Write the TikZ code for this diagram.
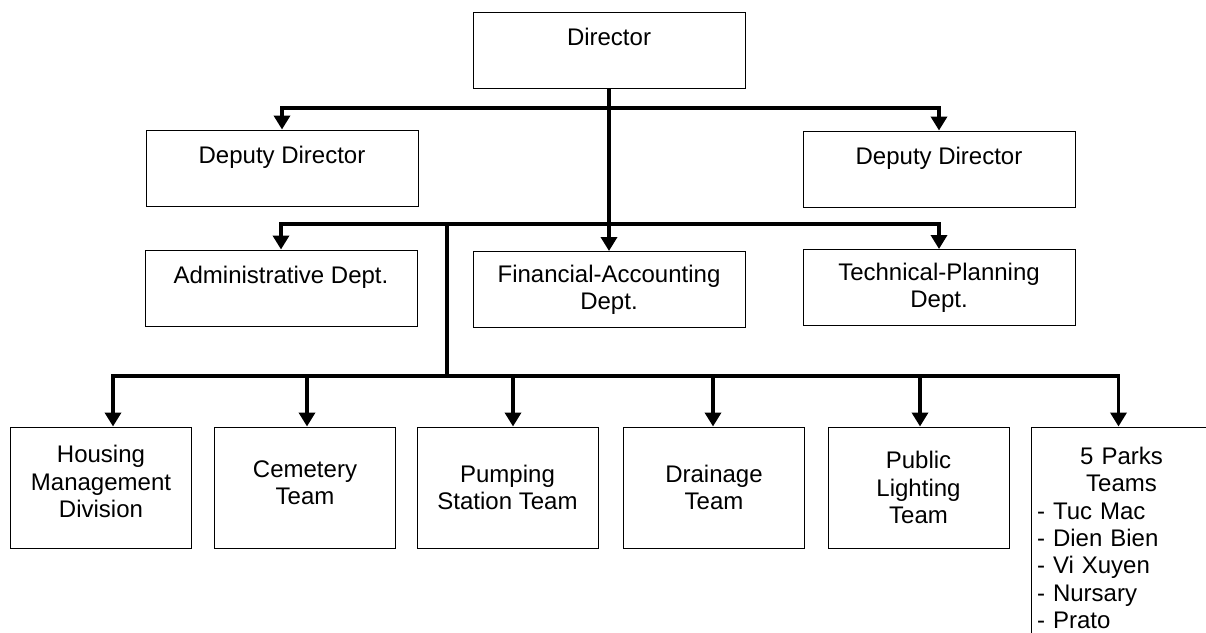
\documentclass[tikz,border=0pt]{standalone}
\usepackage{fontspec}
\setmainfont{Liberation Sans}
\usetikzlibrary{arrows.meta}

\begin{document}
\begin{tikzpicture}[
  x=1pt, y=-1pt,
  font=\fontsize{24}{27.3}\selectfont,
  box/.style={draw=black, line width=1pt, inner sep=0pt, align=center},
  office/.style={box, minimum width=272pt, minimum height=76pt},
  unit/.style={box, minimum width=181pt, minimum height=121pt},
  bus/.style={line width=3.8pt},
  arr/.style={bus, -{Triangle[length=14pt, width=16pt]}}
]
  \useasboundingbox (0,0) rectangle (1206,632);
  \clip (0,0) rectangle (1206,632);

  % management
  \node[office] (dir) at (609,50)    {Director\\\mbox{}};
  \node[office] (ddl) at (282,168)   {Deputy Director\\\mbox{}};
  \node[office] (ddr) at (939,169)   {Deputy Director\\\mbox{}};

  % departments
  \node[office] (adm) at (281,288)   {Administrative Dept.\\\mbox{}};
  \node[office] (fin) at (609,289.5) {Financial-Accounting\\Dept.};
  \node[office] (tec) at (939,287.5) {Technical-Planning\\Dept.};

  % teams
  \node[unit, text depth=12pt] (hmd) at (101,487.5) {Housing\\Management\\Division};
  \node[unit, text depth=10pt] (cem) at (305,487.5) {Cemetery\\Team};
  \node[unit] (pmp) at (507.5,487.5) {Pumping\\Station Team};
  \node[unit] (drn) at (714,487.5)   {Drainage\\Team};
  \node[unit] (lgt) at (918.5,487.5) {Public\\Lighting\\Team};
  \node[unit, minimum height=222pt, text width=169pt, align=left]
    (prk) at (1121.5,538)
    {\mbox{}\hfill 5 Parks\hfill\mbox{}\\
     \mbox{}\hfill Teams\hfill\mbox{}\\
     - Tuc Mac\\ - Dien Bien\\ - Vi Xuyen\\ - Nursary\\ - Prato};

  % connectors
  \coordinate (j1) at (609,108);
  \coordinate (j2) at (609,224);
  \coordinate (j3) at (447,224);
  \coordinate (j4) at (447,376);
  \draw[arr] (dir.south) -- (fin.north);
  \draw[arr] (j1) -| (ddl.north);
  \draw[arr] (j1) -| (ddr.north);
  \draw[arr] (j2) -| (adm.north);
  \draw[arr] (j2) -| (tec.north);
  \draw[bus] (j3) -- (j4);
  \draw[arr] (j4) -| ([xshift=12pt]hmd.north);
  \draw[arr] (j4) -| ([xshift=-3pt]prk.north);
  \foreach \n/\x in {cem/307, pmp/513, drn/713, lgt/920} {
    \coordinate (t\n) at (\x,376);
    \draw[arr] (t\n) -- (t\n |- \n.north);
  }
\end{tikzpicture}
\end{document}
